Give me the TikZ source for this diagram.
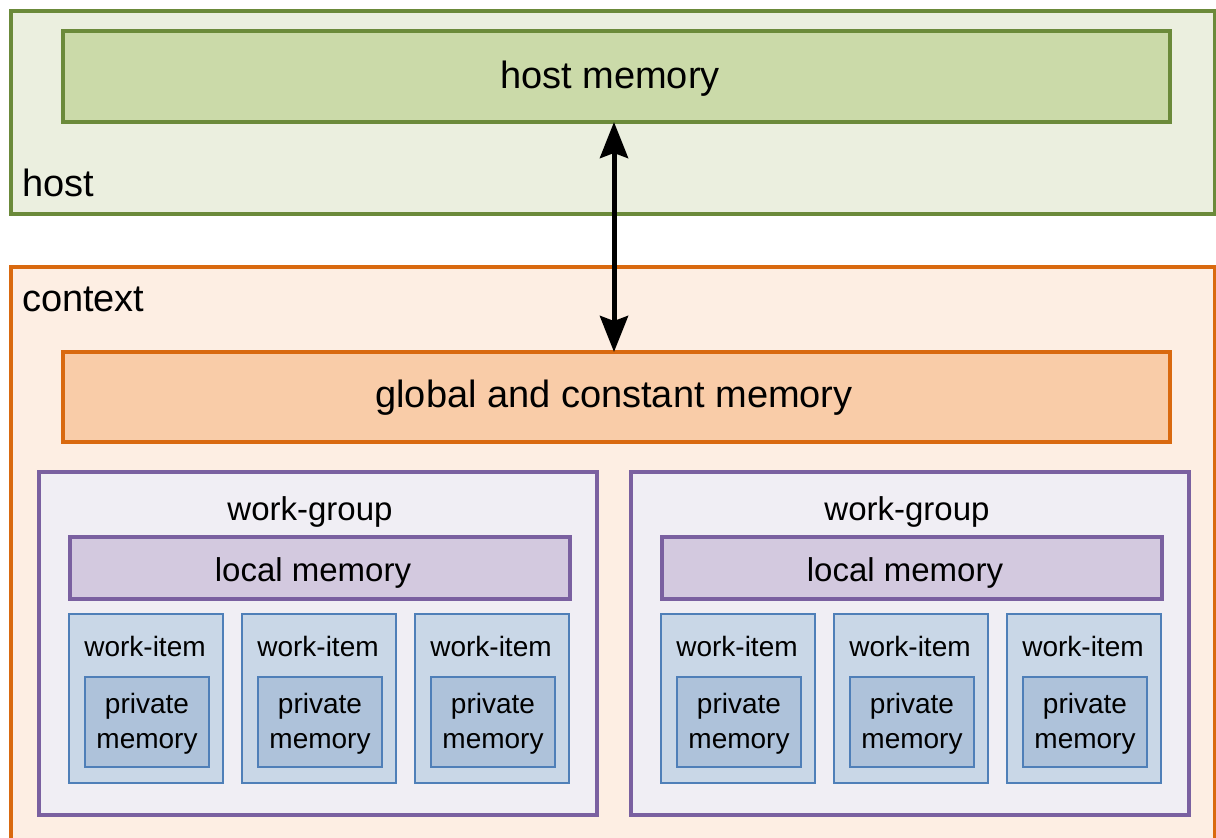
\documentclass[tikz,border=0pt]{standalone}
\usepackage{fontspec}
\setmainfont{Liberation Sans}
\usetikzlibrary{arrows.meta}

\definecolor{greenline}{HTML}{6B8A3A}
\definecolor{hostfill}{HTML}{EBEFDF}
\definecolor{hostmemfill}{HTML}{CBDAA9}
\definecolor{orangeline}{HTML}{D9690F}
\definecolor{ctxfill}{HTML}{FDEEE3}
\definecolor{globalfill}{HTML}{F9CCA8}
\definecolor{purpleline}{HTML}{7A60A0}
\definecolor{wgfill}{HTML}{F0EEF4}
\definecolor{localfill}{HTML}{D3C9DF}
\definecolor{blueline}{HTML}{4F7FB8}
\definecolor{wifill}{HTML}{C9D7E7}
\definecolor{pmfill}{HTML}{AEC2DA}

\tikzset{
  box/.style={rectangle, inner sep=0pt, outer sep=0pt},
  txt/.style={inner sep=0pt, outer sep=0pt},
  bigtext/.style={txt, font=\fontsize{38}{44}\selectfont},
  midtext/.style={txt, font=\fontsize{33}{38}\selectfont},
  smalltext/.style={txt, font=\fontsize{28}{35}\selectfont, align=center},
  hostbox/.style={box, draw=greenline, fill=hostfill, line width=4pt},
  hostmembox/.style={box, draw=greenline, fill=hostmemfill, line width=4pt},
  ctxbox/.style={draw=orangeline, fill=ctxfill, line width=3.5pt},
  globalbox/.style={box, draw=orangeline, fill=globalfill, line width=3.5pt},
  wgbox/.style={box, draw=purpleline, fill=wgfill, line width=4pt},
  localbox/.style={box, draw=purpleline, fill=localfill, line width=4pt},
  wibox/.style={box, draw=blueline, fill=wifill, line width=2pt},
  pmbox/.style={box, draw=blueline, fill=pmfill, line width=2.5pt},
  link/.style={line width=5pt, {Stealth[length=36pt,width=28pt,inset=5pt]}-{Stealth[length=36pt,width=28pt,inset=5pt]}}
}

\begin{document}
\begin{tikzpicture}[x=1pt, y=-1pt]
  \useasboundingbox (0,0) rectangle (1216,838);

  % host area
  \node[hostbox, minimum width=1204pt, minimum height=203pt] (host) at (613,112.5) {};
  \node[hostmembox, minimum width=1107pt, minimum height=91pt] (hostmem) at (616.5,76.5) {};
  \node[bigtext] (hostmemlbl) at (610,79) {host memory};
  \node[bigtext, anchor=base west] (hostlbl) at (22,196) {host};

  % context area (runs past the lower edge)
  \draw[ctxbox] (11,267) rectangle (1215,900);
  \node[bigtext, anchor=base west] (ctxlbl) at (22,311) {context};
  \node[globalbox, minimum width=1107pt, minimum height=90pt] (gmem) at (616.5,397) {};
  \node[bigtext] (gmemlbl) at (614,398) {global and constant memory};

  % work-groups
  \foreach \i/\cx/\lx in {1/318/310, 2/910/907} {
    \node[wgbox, minimum width=558pt, minimum height=343pt] (wg\i) at (\cx,643.5) {};
    \node[midtext] (wglbl\i) at (\lx,512) {work-group};
    \node[localbox, minimum width=500pt, minimum height=62pt] (local\i) at (\cx+2,568) {};
    \node[midtext] (locallbl\i) at (\cx-5,573) {local memory};
    \foreach \j/\dx in {1/-172, 2/1, 3/174} {
      \node[wibox, minimum width=154pt, minimum height=169pt] (wi\i\j) at (\cx+\dx,698.5) {};
      \node[smalltext] (wilbl\i\j) at (\cx+\dx-1,646) {work-item};
      \node[pmbox, minimum width=124pt, minimum height=90pt] (pm\i\j) at (\cx+\dx+1,722) {};
      \node[smalltext] (pmlbl\i\j) at (\cx+\dx+1,724) {private\\memory};
    }
  }

  % transfer between host memory and global memory
  \draw[link] ([xshift=-2.5pt]hostmem.south) -- ([xshift=-2.5pt]gmem.north);
\end{tikzpicture}
\end{document}
